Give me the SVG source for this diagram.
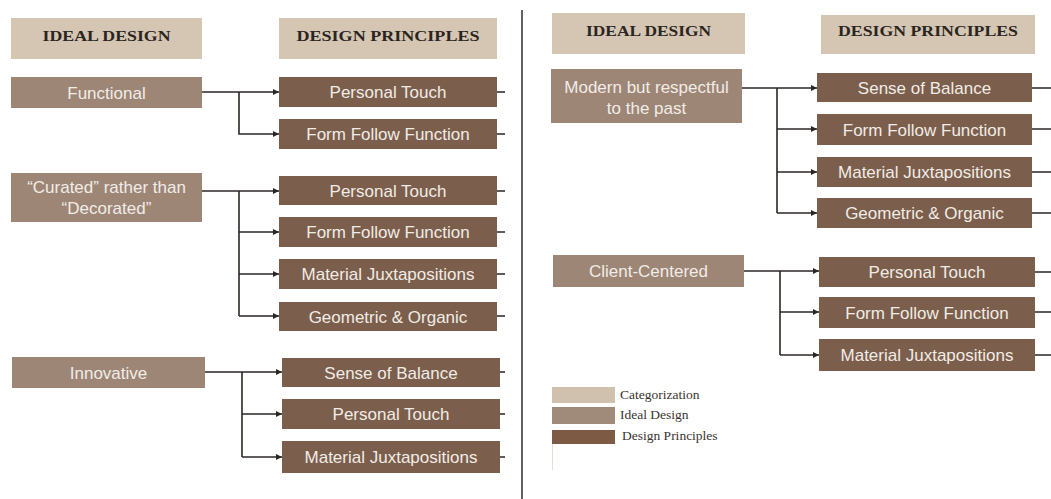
<svg xmlns="http://www.w3.org/2000/svg" width="1051" height="499" viewBox="0 0 1051 499">
  <defs>
    <style>
      .hdr { fill: #d4c6b3; }
      .ideal { fill: #9d8676; }
      .prin { fill: #7b5e4b; }
      .hdr-t { font-family: "Liberation Serif", "Times New Roman", serif; font-weight: bold; font-size: 15px; fill: #2b2521; text-anchor: middle; }
      .box-t { font-family: "Liberation Sans", Arial, sans-serif; font-size: 17px; fill: #f1ece6; text-anchor: middle; }
      .leg-t { font-family: "Liberation Serif", "Times New Roman", serif; font-size: 13.5px; fill: #3a3430; }
      .link { fill: none; stroke: #2a2624; stroke-width: 1.6; }
      .link-a { fill: none; stroke: #2a2624; stroke-width: 1.6; marker-end: url(#arrow); }
    </style>
    <marker id="arrow" markerUnits="userSpaceOnUse" markerWidth="7" markerHeight="7" refX="6" refY="3.5" orient="auto">
      <path d="M0,0.5 L6,3.5 L0,6.5 z" fill="#2a2624"/>
    </marker>
  </defs>

  <rect width="1051" height="499" fill="#ffffff"/>

  <!-- panel divider -->
  <line x1="522" y1="10" x2="522" y2="499" stroke="#3a3a3a" stroke-width="1.6"/>

  <!-- connectors -->
  <g id="connectors">
    <!-- Functional -->
    <path class="link-a" d="M202,92 H279"/>
    <path class="link-a" d="M239,92 V134 H279"/>
    <!-- Curated -->
    <path class="link-a" d="M202,191 H279"/>
    <path class="link" d="M239,191 V316"/>
    <path class="link-a" d="M239,232 H279"/>
    <path class="link-a" d="M239,274 H279"/>
    <path class="link-a" d="M239,316 H279"/>
    <!-- Innovative -->
    <path class="link-a" d="M205,372 H282"/>
    <path class="link" d="M242,372 V457"/>
    <path class="link-a" d="M242,414 H282"/>
    <path class="link-a" d="M242,457 H282"/>
    <!-- Modern -->
    <path class="link-a" d="M742,88 H817"/>
    <path class="link" d="M777,88 V213"/>
    <path class="link-a" d="M777,129 H817"/>
    <path class="link-a" d="M777,172 H817"/>
    <path class="link-a" d="M777,213 H817"/>
    <!-- Client-Centered -->
    <path class="link-a" d="M744,271 H819"/>
    <path class="link" d="M780,271 V355"/>
    <path class="link-a" d="M780,312 H819"/>
    <path class="link-a" d="M780,355 H819"/>
    <!-- outgoing stubs -->
    <path class="link" d="M497,92 H505 M497,134 H505 M497,191 H505 M497,232 H505 M497,274 H505 M497,316 H505 M500,372 H505 M500,414 H505 M500,457 H505"/>
    <path class="link" d="M1032,88 H1051 M1032,129 H1051 M1032,172 H1051 M1032,213 H1051 M1035,272 H1051 M1035,312 H1051 M1035,355 H1051"/>
  </g>

  <!-- left panel headers -->
  <g id="hdr-ideal-l">
    <rect class="hdr" x="11" y="18" width="191" height="41"/>
    <text class="hdr-t" x="106.5" y="41" textLength="128" lengthAdjust="spacingAndGlyphs">IDEAL DESIGN</text>
  </g>
  <g id="hdr-principles-l">
    <rect class="hdr" x="279" y="18" width="218" height="41"/>
    <text class="hdr-t" x="388" y="41" textLength="183" lengthAdjust="spacingAndGlyphs">DESIGN PRINCIPLES</text>
  </g>

  <!-- Functional -->
  <g id="functional">
    <rect class="ideal" x="11" y="77" width="191" height="31"/>
    <text class="box-t" x="106.5" y="98.5">Functional</text>
  </g>
  <g id="functional-pt">
    <rect class="prin" x="279" y="77" width="218" height="30"/>
    <text class="box-t" x="388" y="98">Personal Touch</text>
  </g>
  <g id="functional-fff">
    <rect class="prin" x="279" y="119" width="218" height="30"/>
    <text class="box-t" x="388" y="140">Form Follow Function</text>
  </g>

  <!-- Curated -->
  <g id="curated">
    <rect class="ideal" x="11" y="173" width="191" height="49"/>
    <text class="box-t" x="106.5" y="193">“Curated” rather than</text>
    <text class="box-t" x="106.5" y="214">“Decorated”</text>
  </g>
  <g id="curated-pt">
    <rect class="prin" x="279" y="176" width="218" height="29"/>
    <text class="box-t" x="388" y="196.5">Personal Touch</text>
  </g>
  <g id="curated-fff">
    <rect class="prin" x="279" y="217" width="218" height="30"/>
    <text class="box-t" x="388" y="238">Form Follow Function</text>
  </g>
  <g id="curated-mj">
    <rect class="prin" x="279" y="259" width="218" height="30"/>
    <text class="box-t" x="388" y="280">Material Juxtapositions</text>
  </g>
  <g id="curated-go">
    <rect class="prin" x="279" y="302" width="218" height="29"/>
    <text class="box-t" x="388" y="322.5">Geometric &amp; Organic</text>
  </g>

  <!-- Innovative -->
  <g id="innovative">
    <rect class="ideal" x="12" y="357" width="193" height="31"/>
    <text class="box-t" x="108.5" y="378.5">Innovative</text>
  </g>
  <g id="innovative-sob">
    <rect class="prin" x="282" y="358" width="218" height="29"/>
    <text class="box-t" x="391" y="378.5">Sense of Balance</text>
  </g>
  <g id="innovative-pt">
    <rect class="prin" x="282" y="399" width="218" height="30"/>
    <text class="box-t" x="391" y="420">Personal Touch</text>
  </g>
  <g id="innovative-mj">
    <rect class="prin" x="282" y="441" width="218" height="32"/>
    <text class="box-t" x="391" y="463">Material Juxtapositions</text>
  </g>

  <!-- right panel headers -->
  <g id="hdr-ideal-r">
    <rect class="hdr" x="552" y="13" width="193" height="41"/>
    <text class="hdr-t" x="648.5" y="35.5" textLength="125" lengthAdjust="spacingAndGlyphs">IDEAL DESIGN</text>
  </g>
  <g id="hdr-principles-r">
    <rect class="hdr" x="821" y="15" width="214" height="39"/>
    <text class="hdr-t" x="928" y="35.5" textLength="180" lengthAdjust="spacingAndGlyphs">DESIGN PRINCIPLES</text>
  </g>

  <!-- Modern but respectful -->
  <g id="modern">
    <rect class="ideal" x="551" y="69" width="191" height="54"/>
    <text class="box-t" x="646.5" y="93">Modern but respectful</text>
    <text class="box-t" x="646.5" y="114">to the past</text>
  </g>
  <g id="modern-sob">
    <rect class="prin" x="817" y="73" width="215" height="29"/>
    <text class="box-t" x="924.5" y="93.5">Sense of Balance</text>
  </g>
  <g id="modern-fff">
    <rect class="prin" x="817" y="114" width="215" height="31"/>
    <text class="box-t" x="924.5" y="135.5">Form Follow Function</text>
  </g>
  <g id="modern-mj">
    <rect class="prin" x="817" y="157" width="215" height="30"/>
    <text class="box-t" x="924.5" y="178">Material Juxtapositions</text>
  </g>
  <g id="modern-go">
    <rect class="prin" x="817" y="198" width="215" height="30"/>
    <text class="box-t" x="924.5" y="219">Geometric &amp; Organic</text>
  </g>

  <!-- Client-Centered -->
  <g id="client">
    <rect class="ideal" x="553" y="255" width="191" height="32"/>
    <text class="box-t" x="648.5" y="277">Client-Centered</text>
  </g>
  <g id="client-pt">
    <rect class="prin" x="819" y="257" width="216" height="30"/>
    <text class="box-t" x="927" y="278">Personal Touch</text>
  </g>
  <g id="client-fff">
    <rect class="prin" x="819" y="297" width="216" height="31"/>
    <text class="box-t" x="927" y="318.5">Form Follow Function</text>
  </g>
  <g id="client-mj">
    <rect class="prin" x="819" y="339" width="216" height="32"/>
    <text class="box-t" x="927" y="361">Material Juxtapositions</text>
  </g>

  <!-- legend -->
  <g id="legend">
    <rect x="552" y="387" width="63" height="16" fill="#cfc1ad"/>
    <rect x="552" y="407" width="63" height="17" fill="#a08a7a"/>
    <rect x="552" y="430" width="63" height="14" fill="#7d5a44"/>
    <line x1="552.5" y1="444" x2="552.5" y2="470" stroke="#e4ddd6" stroke-width="1"/>
    <text class="leg-t" x="620" y="399">Categorization</text>
    <text class="leg-t" x="620" y="419">Ideal Design</text>
    <text class="leg-t" x="622" y="440">Design Principles</text>
  </g>
</svg>
